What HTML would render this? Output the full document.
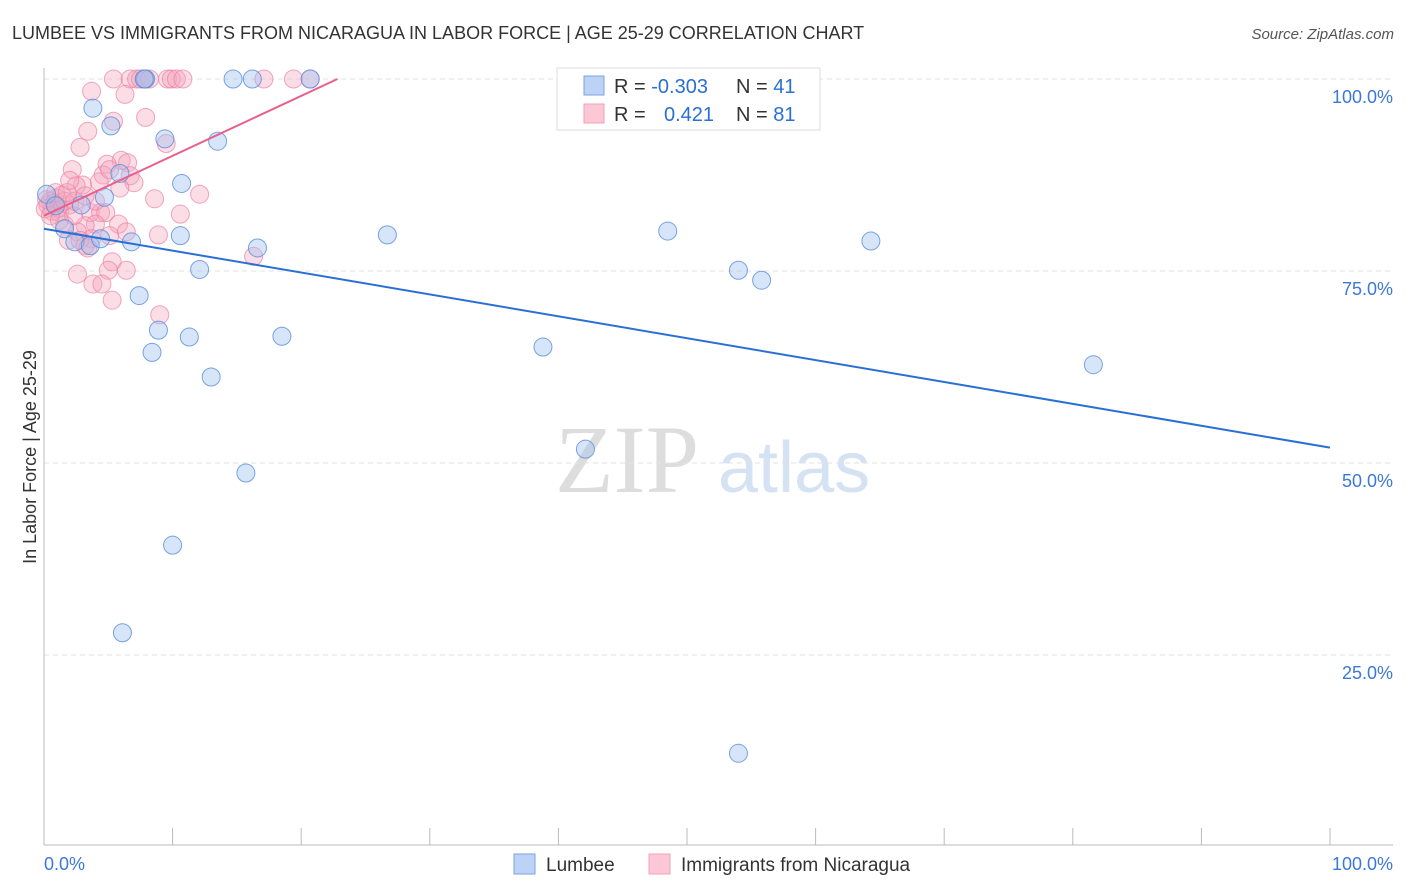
<!DOCTYPE html>
<html><head><meta charset="utf-8"><style>
body{margin:0;background:#fff;font-family:"Liberation Sans",sans-serif;}
svg{display:block}
</style></head><body>
<svg id="chart" width="1406" height="892" xmlns="http://www.w3.org/2000/svg">
<text x="12" y="39" font-size="18" fill="#333">LUMBEE VS IMMIGRANTS FROM NICARAGUA IN LABOR FORCE | AGE 25-29 CORRELATION CHART</text>
<text x="1394" y="39" font-size="15" fill="#555" text-anchor="end" font-style="italic">Source: ZipAtlas.com</text>
<text x="36" y="457" font-size="18" fill="#333" text-anchor="middle" transform="rotate(-90 36 457)">In Labor Force | Age 25-29</text>
<text x="555" y="492" font-size="96" fill="#ddd" font-family="Liberation Serif,serif">ZIP</text>
<text x="718" y="492" font-size="72" fill="#d5e2f3">atlas</text>
<g id="grid"></g><g id="pinkPts"></g><g id="bluePts"></g><g id="lines"></g>
<g>
<rect x="557" y="68" width="263" height="62" fill="#fff" stroke="#ddd"/>
<rect x="584" y="76" width="20" height="19" fill="#bcd3f5" stroke="#7aa3e0"/>
<rect x="584" y="104" width="20" height="19" fill="#fcc8d6" stroke="#f0a0b8"/>
<text x="614" y="93" font-size="20" fill="#333">R = <tspan fill="#2a6fd4">-0.303</tspan></text>
<text x="736" y="93" font-size="20" fill="#333">N = <tspan fill="#2a6fd4">41</tspan></text>
<text x="614" y="121" font-size="20" fill="#333">R = </text><text x="664" y="121" font-size="20" fill="#2a6fd4">0.421</text>
<text x="736" y="121" font-size="20" fill="#333">N = <tspan fill="#2a6fd4">81</tspan></text>
</g>
<g>
<rect x="514" y="854" width="21" height="20" fill="#bcd3f5" stroke="#7aa3e0"/>
<text x="546" y="871" font-size="19" fill="#333">Lumbee</text>
<rect x="649" y="854" width="21" height="20" fill="#fcc8d6" stroke="#f0a0b8"/>
<text x="681" y="871" font-size="19" fill="#333">Immigrants from Nicaragua</text>
</g>
</svg>
<script>
const yTicks=[100,75,50,25];
const xTickCount=10;
const blueX=[3.8,5.2,7.9,14.7,16.2,20.7,9.4,13.5,5.9,4.7,10.7,2.9,1.6,2.4,3.6,4.4,6.8,10.6,16.6,26.7,48.5,64.3,54.0,55.8,12.1,7.4,8.9,11.3,18.5,8.4,38.8,13.0,81.6,42.1,15.7,10.0,6.1,54.0,0.2,0.9,7.8];
const blueY=[96.2,93.9,100,100,100,100,92.2,91.9,87.7,84.6,86.4,83.6,80.5,78.8,78.3,79.2,78.8,79.6,78.0,79.7,80.2,78.9,75.1,73.8,75.2,71.8,67.3,66.4,66.5,64.4,65.1,61.2,62.8,51.8,48.7,39.3,27.9,12.2,85.0,83.5,100];
const pinkX=[5.4,6.7,7.2,7.5,7.8,8.2,9.6,9.9,10.3,10.8,17.1,19.4,20.7,3.7,6.3,7.9,5.4,3.4,9.5,2.8,6.0,4.9,4.6,6.5,6.7,7.0,2.2,3.0,2.5,4.3,12.1,8.6,10.6,1.4,1.0,0.5,0.6,1.2,2.0,3.6,4.4,4.8,5.8,4.0,3.2,2.6,1.6,8.9,6.4,5.1,3.7,1.9,2.8,3.2,16.3,5.3,5.0,6.4,2.6,3.8,4.5,5.3,9.0,0.3,0.2,0.8,1.1,1.6,0.1,0.5,2.3,1.2,2.4,4.0,0.9,1.8,3.2,3.4,2.0,5.1,5.9];
const pinkY=[100,100,100,100,100,100,100,100,100,100,100,100,100,98.4,98.0,95.0,94.5,93.2,91.6,91.1,89.4,88.9,87.5,89.1,87.4,86.5,88.2,86.2,86.1,86.6,85.0,84.4,82.4,84.9,84.5,84.1,82.8,82.6,83.6,82.6,82.6,82.6,81.1,81.1,80.9,80.1,81.0,79.7,80.1,79.6,79.2,79.0,79.0,78.3,76.9,76.2,75.1,75.1,74.6,73.3,73.3,71.2,69.3,83.6,84.3,83.8,83.2,84.1,83.1,82.2,82.2,81.6,84.1,84.1,85.2,85.2,84.8,78.0,86.8,88.2,85.8];
const blueTrend=[80.5,52.0];   // y at x=0, y at x=100
const pinkTrend=[82.2,0.78];   // intercept, slope
const X0=44,X1=1330,Y100=79,Y0=847;
const sx=v=>X0+(X1-X0)*v/100, sy=v=>Y0-(Y0-Y100)*v/100;
const NS="http://www.w3.org/2000/svg";
function mk(tag,attrs,parent){const e=document.createElementNS(NS,tag);for(const k in attrs)e.setAttribute(k,attrs[k]);parent.appendChild(e);return e;}
const grid=document.getElementById('grid');
yTicks.forEach(t=>{
 const l=mk('line',{x1:44,x2:1393,y1:sy(t),y2:sy(t),stroke:'#e2e2e2','stroke-dasharray':'5,4'},grid);
 
 
 const tx=mk('text',{x:1393,y:sy(t)+24,'font-size':18,fill:'#3b78d8','text-anchor':'end'},grid);
 tx.textContent=t.toFixed(1)+'%';
 
 
});
let a=mk('line',{x1:44,x2:44,y1:68,y2:845,stroke:'#bbb'},grid);


a=mk('line',{x1:44,x2:1393,y1:845,y2:845,stroke:'#bbb'},grid);


for(let i=0;i<=xTickCount;i++){const v=i*100/xTickCount;
 const t=mk('line',{x1:sx(v),x2:sx(v),y1:828,y2:845,stroke:'#bbb'},grid);
 
 }
[[0,'0.0%','start',44],[100,'100.0%','end',1393]].forEach(d=>{
 const t=mk('text',{x:d[3],y:870,'font-size':18,fill:'#3b78d8','text-anchor':d[2]},grid);
 t.textContent=d[1];
 
 });
const pg=document.getElementById('pinkPts');
pinkX.forEach((x,i)=>{const c=mk('circle',{cx:sx(x),cy:sy(pinkY[i]),r:9,fill:'rgba(245,165,190,0.38)',stroke:'rgba(235,130,165,0.7)','stroke-width':1},pg);
 
 });
const bg=document.getElementById('bluePts');
blueX.forEach((x,i)=>{const c=mk('circle',{cx:sx(x),cy:sy(blueY[i]),r:9,fill:'rgba(160,192,240,0.42)',stroke:'rgba(90,140,220,0.8)','stroke-width':1},bg);
 
 });
const lg=document.getElementById('lines');
let l=mk('line',{x1:sx(0),y1:sy(blueTrend[0]),x2:sx(100),y2:sy(blueTrend[1]),stroke:'#2a6fd4','stroke-width':2},lg);


const pEnd=(100-pinkTrend[0])/pinkTrend[1];
l=mk('line',{x1:sx(0),y1:sy(pinkTrend[0]),x2:sx(pEnd),y2:sy(100),stroke:'#e8608a','stroke-width':2},lg);


</script>
</body></html>
